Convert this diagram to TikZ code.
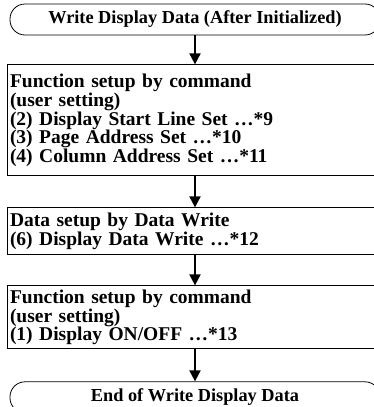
\documentclass[tikz,border=0pt]{standalone}
\usepackage{fontspec}
\setmainfont{Liberation Serif}
\usetikzlibrary{positioning, arrows.meta}

\tikzset{
    terminal/.style={draw, line width=0.8pt, rounded corners=15pt, minimum width=370pt, minimum height=31pt, inner sep=0pt, font=\bfseries\fontsize{18.3}{16.5}\selectfont},
    procbox/.style={draw, line width=1pt, text width=370pt, align=left, inner xsep=3pt, inner ysep=2pt, font=\bfseries\fontsize{19.5}{16.7}\selectfont},
    flow/.style={-{Triangle[length=11pt, width=11pt]}, line width=1.8pt}
}

\begin{document}
\begin{tikzpicture}[x=1pt, y=1pt, node distance=30pt]
    \path[use as bounding box, clip] (0,0) rectangle (374,-407);

    \node[terminal] (start) at (195,-19.5) {Write Display Data (After Initialized)};
    \node[procbox, minimum height=111pt, below = 29pt of start] (cmdset) {Function setup by command\\(user setting)\\(2) Display Start Line Set \dots*9\\(3) Page Address Set \dots*10\\(4) Column Address Set \dots*11};
    \node[procbox, minimum height=47pt, below = 31pt of cmdset] (datawr) {Data setup by Data Write\\(6) Display Data Write \dots*12};
    \node[procbox, minimum height=63pt, below = 30pt of datawr] (dispon) {Function setup by command\\(user setting)\\(1) Display ON/OFF \dots*13};
    \node[terminal, below = 32pt of dispon] (stop) {End of Write Display Data};

    \draw[flow] (start) -- (cmdset);
    \draw[flow] (cmdset) -- (datawr);
    \draw[flow] (datawr) -- (dispon);
    \draw[flow] (dispon) -- (stop);
\end{tikzpicture}
\end{document}
